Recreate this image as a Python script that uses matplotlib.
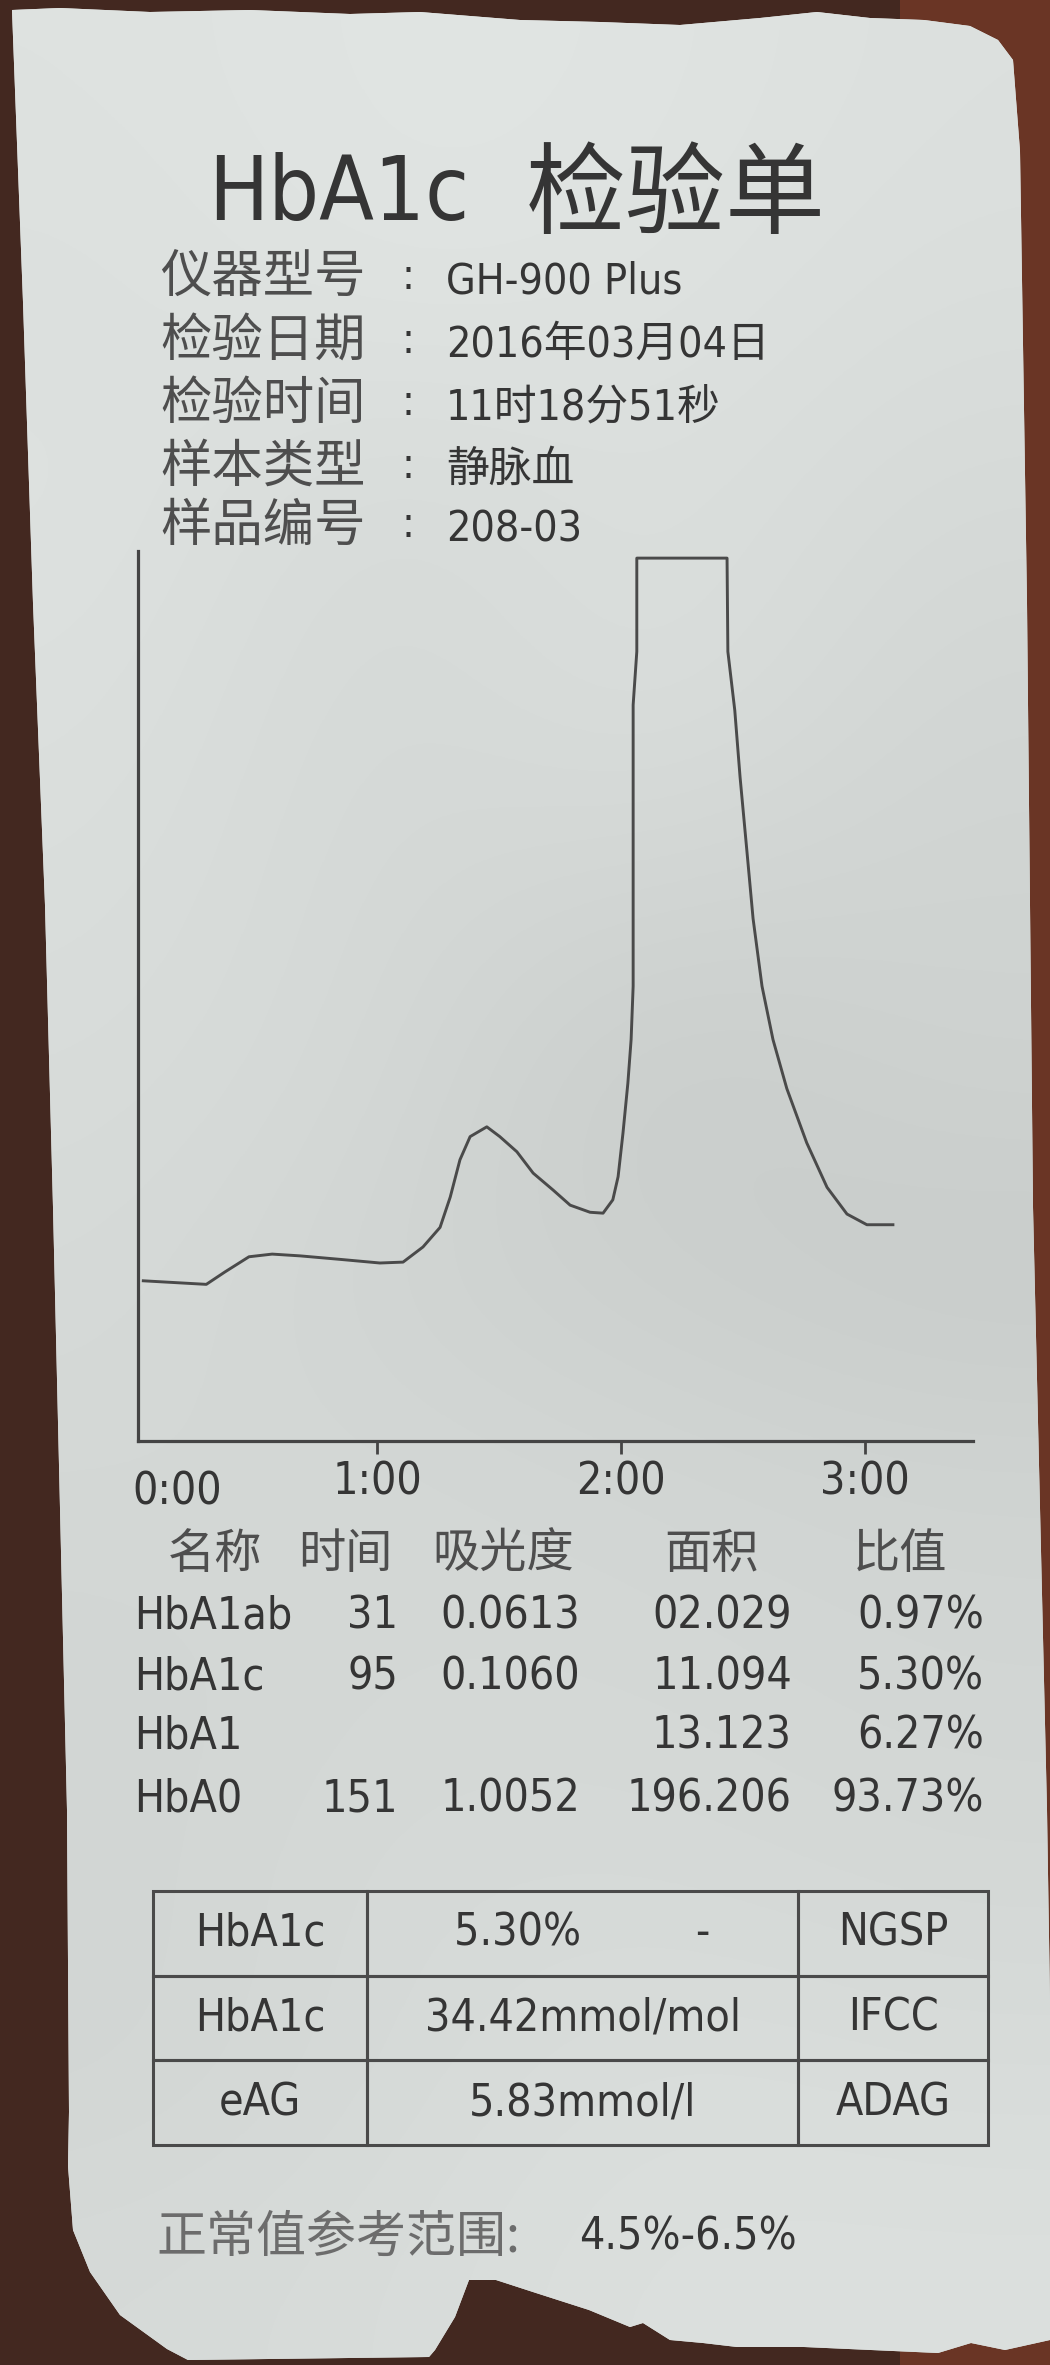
import numpy as np
import matplotlib
matplotlib.use("Agg")
import matplotlib.pyplot as plt
from matplotlib import font_manager
from matplotlib.font_manager import FontProperties
from matplotlib.textpath import TextToPath
from matplotlib.patches import Polygon

title_latin = "HbA1c"
title_cjk = "检验单"
info_labels = ["仪器型号", "检验日期", "检验时间", "样本类型", "样品编号"]
info_values = ["GH-900 Plus", "2016年03月04日", "11时18分51秒", "静脉血", "208-03"]

# chromatogram trace: time (s) and relative signal (0-100 = top of the plot)
time_s = [2.5, 18.0, 22.6, 28.5, 34.2, 41.1, 51.1, 60.7, 66.4, 71.3, 75.5,
          78.0, 80.4, 82.9, 87.0, 90.2, 94.4, 98.4, 103.3, 107.5, 112.4,
          115.6, 118.0, 119.3, 120.5, 121.7, 122.5, 123.0, 123.0, 123.9,
          123.9, 146.1, 146.3, 148.0, 149.3, 151.0, 152.5, 154.7, 157.4,
          160.8, 165.7, 170.7, 175.6, 180.5, 186.9]
signal = [18.0, 17.6, 19.0, 20.7, 21.0, 20.8, 20.4, 20.0, 20.1, 21.8, 24.0,
          27.4, 31.6, 34.2, 35.3, 34.2, 32.5, 30.1, 28.2, 26.5, 25.7,
          25.6, 27.1, 29.7, 34.6, 40.2, 45.1, 51.1, 82.7, 88.7,
          99.2, 99.2, 88.7, 82.1, 74.6, 66.2, 58.7, 51.1, 45.1,
          39.6, 33.5, 28.5, 25.5, 24.3, 24.3]
tick_pos = [60, 120, 180]
tick_labels = ["1:00", "2:00", "3:00"]

col_heads = ["名称", "时间", "吸光度", "面积", "比值"]
names = ["HbA1ab", "HbA1c", "HbA1", "HbA0"]
times = ["31", "95", "", "151"]
absorb = ["0.0613", "0.1060", "", "1.0052"]
areas = ["02.029", "11.094", "13.123", "196.206"]
ratios = ["0.97%", "5.30%", "6.27%", "93.73%"]

box_names = ["HbA1c", "HbA1c", "eAG"]
box_values = ["5.30%         -", "34.42mmol/mol", "5.83mmol/l"]
box_std = ["NGSP", "IFCC", "ADAG"]

ref_label = "正常值参考范围:"
ref_range = "4.5%-6.5%"

# ---- fonts: the printer font is a narrow sans, pick the narrowest one we have ----
ttf = font_manager.fontManager.ttflist
stretch = "normal"
if any(f.name == "Liberation Sans Narrow" for f in ttf):
    lat = "Liberation Sans Narrow"
elif any(f.name == "Noto Sans Condensed" for f in ttf):
    lat = "Noto Sans Condensed"
elif any(f.name == "Noto Sans" and f.stretch == "condensed" for f in ttf):
    lat, stretch = "Noto Sans", "condensed"
elif any(f.name == "DejaVu Sans" and f.stretch == "condensed" for f in ttf):
    lat, stretch = "DejaVu Sans", "condensed"
else:
    lat = "Liberation Sans"
NARROW = [lat, "Noto Sans CJK SC"]
CJK = ["Noto Sans CJK SC", "DejaVu Sans"]

_w, _h, _d = TextToPath().get_text_width_height_descent(
    "0000000000", FontProperties(family=NARROW, stretch=stretch, size=100), ismath=False)
digit_px_per_pt = _w / 1000.0 * 100 / 72


def size_for(digit_px, cap_px):
    # fit the glyph advance, but never taller than the printed cap height
    return min(digit_px / digit_px_per_pt, cap_px / (0.716 * 100 / 72))


S_INFO = size_for(24.5, 38)
S_TAB = size_for(25.5, 41)
S_TITLE = size_for(51, 86)
LAT = dict(family=NARROW, stretch=stretch)

INK = "#353535"
GREY = "#4e4e4e"
PALE = "#6c6c6c"

W, H = 1050, 2365
fig = plt.figure(figsize=(W / 100, H / 100), dpi=100)
fig.patch.set_facecolor("#432820")

bg = fig.add_axes([0, 0, 1, 1])
bg.set_xlim(0, W)
bg.set_ylim(H, 0)
bg.axis("off")

# reddish wood showing on the right
bg.add_patch(Polygon([(900, 0), (1050, 0), (1050, 2365), (900, 2365)],
                     facecolor="#6a3525", edgecolor="none", zorder=0))

# torn paper outline
paper_xy = [(12, 10), (60, 8), (150, 12), (250, 10), (350, 14), (420, 12), (520, 20),
            (600, 22), (680, 25), (760, 18), (817, 12), (870, 18), (924, 20), (970, 26),
            (998, 40), (1013, 60), (1020, 151), (1027, 603), (1033, 1207), (1040, 1508),
            (1047, 1810), (1050, 2000), (1050, 2340), (1005, 2350), (971, 2343),
            (938, 2353), (871, 2350), (804, 2347), (737, 2347), (703, 2343), (670, 2340),
            (643, 2323), (630, 2327), (589, 2310), (536, 2293), (496, 2280), (469, 2280),
            (455, 2317), (435, 2350), (429, 2357), (188, 2360), (167, 2349), (120, 2315),
            (90, 2272), (73, 2230), (68, 2166), (69, 2112), (67, 1810), (60, 1508),
            (53, 1207), (45, 905), (33, 603), (23, 302)]
paper = Polygon(paper_xy, closed=True, facecolor="#d8dcd9", edgecolor="none", zorder=1)
bg.add_patch(paper)

# soft lighting on the paper (coarse grey levels, top to bottom)
shade = np.array([
    [226, 229, 228, 224],
    [224, 228, 226, 222],
    [226, 218, 224, 218],
    [224, 216, 224, 214],
    [222, 216, 214, 212],
    [220, 216, 204, 210],
    [218, 212, 208, 204],
    [216, 216, 214, 212],
    [214, 216, 216, 214],
    [214, 218, 218, 216],
    [214, 218, 222, 220],
    [218, 220, 224, 224],
], dtype=float)
img = np.stack([shade - 4, shade, shade - 2], axis=-1) / 255.0
im = bg.imshow(img, extent=[0, W, H, 0], interpolation="bicubic", zorder=2, aspect="auto")
im.set_clip_path(paper)

# ---- header ----
bg.text(208, 220, title_latin, fontsize=S_TITLE, color=INK, zorder=5, **LAT)
bg.text(526, 226, title_cjk, fontsize=72, family=CJK, color=INK, zorder=5)

row_y = [293, 357, 419, 482, 541]
for lab, val, y in zip(info_labels, info_values, row_y):
    bg.text(160, y, lab, fontsize=37, family=CJK, color=GREY, zorder=5)
    bg.text(408, y - 4, ":", fontsize=S_INFO, color=INK, ha="center", zorder=5, **LAT)
    bg.text(446, y, val, fontsize=S_INFO, color=INK, zorder=5, **LAT)

# ---- chromatogram ----
x0, x1, y0, y1 = 138, 973, 1441, 551
ax = fig.add_axes([x0 / W, 1 - y0 / H, (x1 - x0) / W, (y0 - y1) / H])
ax.set_facecolor("none")
ax.set_zorder(5)
ax.plot(time_s, signal, color="#4a4a4a", lw=2.1, solid_joinstyle="round")
ax.set_xlim(1.2, 206.6)
ax.set_ylim(0, 100)
for s in ["top", "right"]:
    ax.spines[s].set_visible(False)
for s in ["left", "bottom"]:
    ax.spines[s].set_color("#444444")
    ax.spines[s].set_linewidth(2.3)
ax.set_yticks([])
ax.set_xticks(tick_pos, tick_labels)
ax.tick_params(axis="x", length=9, width=2, color="#444444", pad=5,
               labelsize=S_TAB, labelcolor=INK)
for t in ax.get_xticklabels():
    t.set_family(NARROW)
    t.set_stretch(stretch)
ax.text(-0.3, -0.0573, "0:00", transform=ax.get_xaxis_transform(), ha="left", va="center",
        fontsize=S_TAB, color=INK, **LAT)

# ---- result table ----
head_x = [215, 345, 503, 712, 900]
for h, x in zip(col_heads, head_x):
    bg.text(x, 1568, h, fontsize=34, family=CJK, color=GREY, ha="center", zorder=5)

data_y = [1628, 1689, 1748, 1811]
for i, y in enumerate(data_y):
    bg.text(134, y, names[i], fontsize=S_TAB, color=INK, zorder=5, **LAT)
    bg.text(398, y, times[i], fontsize=S_TAB, color=INK, ha="right", zorder=5, **LAT)
    bg.text(580, y, absorb[i], fontsize=S_TAB, color=INK, ha="right", zorder=5, **LAT)
    bg.text(792, y, areas[i], fontsize=S_TAB, color=INK, ha="right", zorder=5, **LAT)
    bg.text(984, y, ratios[i], fontsize=S_TAB, color=INK, ha="right", zorder=5, **LAT)

# ---- summary box ----
bl, br, bt, bb = 153, 988, 1891, 2145
tax = fig.add_axes([bl / W, 1 - bb / H, (br - bl) / W, (bb - bt) / H])
tax.set_zorder(5)
tax.axis("off")
cells = [[n, v, s] for n, v, s in zip(box_names, box_values, box_std)]
tbl = tax.table(cellText=cells, cellLoc="center", bbox=[0, 0, 1, 1],
                colWidths=[214 / 835, 431 / 835, 190 / 835])
tbl.auto_set_font_size(False)
for cell in tbl.get_celld().values():
    cell.set_facecolor("none")
    cell.set_edgecolor("#4a4a4a")
    cell.set_linewidth(2.2)
    txt = cell.get_text()
    txt.set_fontsize(S_TAB)
    txt.set_family(NARROW)
    txt.set_stretch(stretch)
    txt.set_color(INK)

# ---- footer ----
bg.text(156, 2252, ref_label, fontsize=36, family=CJK, color=PALE, zorder=5)
bg.text(579, 2249, ref_range, fontsize=S_TAB, color=INK, zorder=5, **LAT)

fig.savefig("out.png", dpi=100, facecolor=fig.get_facecolor())
